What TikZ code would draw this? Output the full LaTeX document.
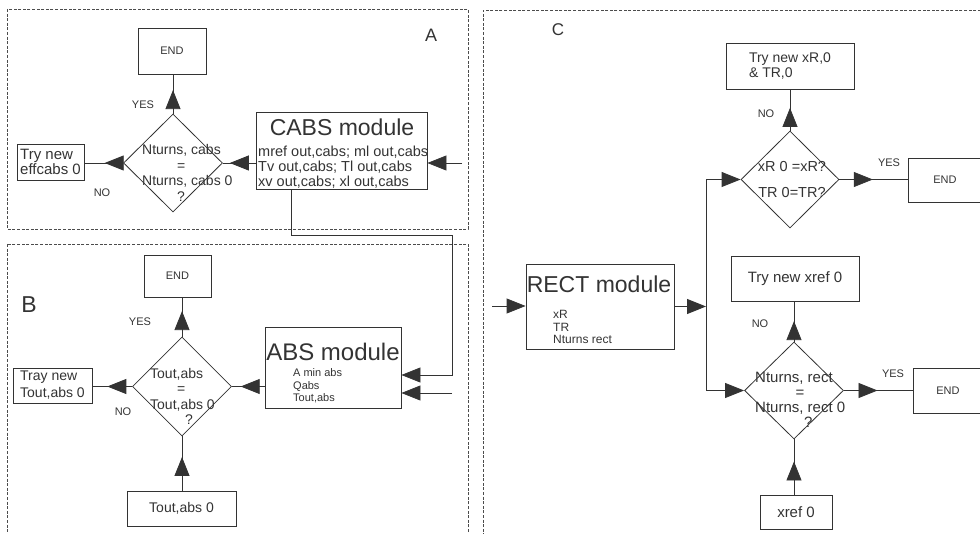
\documentclass[tikz,border=0pt]{standalone}
\usepackage{fontspec}
\setmainfont{Liberation Sans}
\usetikzlibrary{arrows.meta,shapes.geometric,decorations.markings}

\begin{document}
\begin{tikzpicture}[x=1pt,y=-1pt,>={Triangle[length=19pt,width=15pt]}]
\tikzset{
  panel/.style={draw=black!70, line width=0.7pt, dash pattern=on 3pt off 1.6pt},
  box/.style={draw=black!80, line width=0.8pt, inner sep=0pt, align=left, text=black!80},
  dec/.style={draw=black!80, line width=0.8pt, diamond, inner sep=0pt},
  ln/.style={draw=black!80, line width=0.8pt},
  flow/.style={postaction={decorate, decoration={markings,
      mark=at position #1 with {\arrow{Triangle[length=19pt,width=15pt]}}}}},
  tx/.style={inner sep=0pt, align=left, text=black!80},
  fsmall/.style={font=\fontsize{11}{12.5}\selectfont},
  fmid/.style={font=\fontsize{12}{12.5}\selectfont},
  fbody/.style={font=\fontsize{14}{15.5}\selectfont},
  fwide/.style={font=\fontsize{15}{15}\selectfont},
  ftitle/.style={font=\fontsize{23}{25}\selectfont}
}
\useasboundingbox (0,0) rectangle (980,534);
% ---------- A: CABS module ----------
\begin{scope}
  \draw[panel] (7,9) rectangle (468,229);
  \node[tx, font=\fontsize{18}{18}\selectfont] (labA) at (431,35) {A};
  \node[box, fsmall, align=center, minimum width=68pt, minimum height=46pt] (endA) at (172,51) {END};
  \node[dec, minimum width=99pt, minimum height=98pt] (qA) at (173,163) {};
  \node[tx, fbody, anchor=west] (qAt) at (142,173) {Nturns, cabs\\\hspace*{35pt}=\\Nturns, cabs 0\\\hspace*{35pt}?};
  \node[box, fwide, minimum width=67pt, minimum height=36pt] (tryA) at (50.5,162) {Try new\\effcabs 0};
  \node[box, minimum width=171pt, minimum height=77pt] (cabs) at (341.5,150.5) {};
  \node[tx, ftitle] (cabsT) at (342,127) {CABS module};
  \node[tx, font=\fontsize{14.5}{15}\selectfont, anchor=west] (cabsB) at (258,167)
    {mref out,cabs; ml out,cabs\\Tv out,cabs; Tl out,cabs\\xv out,cabs; xl out,cabs};
  \node[tx, fsmall] (yesA) at (143,105) {YES};
  \node[tx, fsmall] (noA) at (102,193) {NO};
  \coordinate (inA) at (462,163);
  \draw[ln, flow=0.6] (qA.north) -- (qA.north |- endA.south);
  \draw[ln, flow=0.475] (qA.west) -- (qA.west -| tryA.east);
  \draw[ln, flow=0.79] (qA.east -| cabs.west) -- (qA.east);
  \draw[ln, ->] (inA) -- (inA -| cabs.east);
\end{scope}
% ---------- B: ABS module ----------
\begin{scope}
  \draw[panel] (7,244) rectangle (468,560);
  \node[tx, font=\fontsize{23}{23}\selectfont] (labB) at (29,305) {B};
  \node[box, fsmall, align=center, minimum width=67pt, minimum height=42pt] (endB) at (177.5,276) {END};
  \node[dec, minimum width=99pt, minimum height=99pt] (qB) at (182,386.5) {};
  \node[tx, fbody, anchor=west] (qBt) at (150,396.5) {Tout,abs\\\hspace*{27pt}=\\Tout,abs 0\\\hspace*{35pt}?};
  \node[box, font=\fontsize{14}{17}\selectfont, minimum width=79pt, minimum height=35pt] (tryB) at (52.5,385.5) {Tray new\\Tout,abs 0};
  \node[box, minimum width=136pt, minimum height=81pt] (abs) at (333,367.5) {};
  \node[tx, font=\fontsize{24}{25}\selectfont] (absT) at (333,352) {ABS module};
  \node[tx, fsmall, anchor=west] (absB) at (293,386) {A min abs\\Qabs\\Tout,abs};
  \node[box, fbody, minimum width=109pt, minimum height=35pt] (toutB) at (181.5,508.5) {Tout,abs 0};
  \node[tx, fsmall] (yesB) at (140,322) {YES};
  \node[tx, fsmall] (noB) at (123,412) {NO};
  \coordinate (outA) at (291,235);
  \coordinate (inAB) at (452,375);
  \coordinate (inB) at (452,393);
  \draw[ln, flow=0.65] (qB.north) -- (qB.north |- endB.south);
  \draw[ln, flow=0.625] (qB.west) -- (qB.west -| tryB.east);
  \draw[ln, flow=0.73] (qB.east -| abs.west) -- (qB.east);
  \draw[ln, flow=0.62] (toutB.north -| qB.south) -- (qB.south);
  \draw[ln, ->] (outA |- cabs.south) -- (outA) -| (inAB) -- (inAB -| abs.east);
  \draw[ln, ->] (inB) -- (inB -| abs.east);
\end{scope}
% ---------- C: RECT module ----------
\begin{scope}
  \draw[panel] (990,10) -- (483,10) -- (483,560);
  \node[tx, font=\fontsize{17}{17}\selectfont] (labC) at (558,30) {C};
  \node[box, fbody, minimum width=128pt, minimum height=46pt] (tryC1) at (790,66) {Try new xR,0\\\& TR,0};
  \node[dec, minimum width=98pt, minimum height=97pt] (qC1) at (790,179.5) {};
  \node[tx, font=\fontsize{14.5}{15.5}\selectfont, align=center] (qC1t) at (792,180) {xR 0 =xR?\\[10.5pt]TR 0=TR?};
  \node[box, fsmall, align=center, minimum width=74pt, minimum height=44pt] (endC1) at (945,180) {END};
  \node[tx, fsmall] (noC1) at (766,114) {NO};
  \node[tx, fsmall] (yesC1) at (889,163) {YES};
  \node[box, minimum width=148pt, minimum height=85pt] (rect) at (600,306.5) {};
  \node[tx, ftitle] (rectT) at (599,284) {RECT module};
  \node[tx, fmid, anchor=west] (rectB) at (553,327) {xR\\TR\\Nturns rect};
  \node[box, fwide, minimum width=128pt, minimum height=45pt] (tryC2) at (795,278.5) {Try new xref 0};
  \node[dec, minimum width=99pt, minimum height=97pt] (qC2) at (794,390.5) {};
  \node[tx, fwide, anchor=west] (qC2t) at (755,400) {Nturns, rect\\\hspace*{40.5pt}=\\Nturns, rect 0\\\hspace*{49pt}?};
  \node[box, fsmall, align=center, minimum width=70pt, minimum height=45pt] (endC2) at (948,390.5) {END};
  \node[tx, fsmall] (noC2) at (760,324) {NO};
  \node[tx, fsmall] (yesC2) at (893,374) {YES};
  \node[box, fwide, minimum width=72pt, minimum height=34pt] (xref) at (796,512) {xref 0};
  \coordinate (inC) at (492,306);
  \coordinate (split) at (706,0);
  \draw[ln, ->] (inC) -- (inC -| rect.west);
  \draw[ln, ->] (rect.east) -- (rect.east -| split);
  \draw[ln] (split |- qC1.west) -- (split |- qC2.west);
  \draw[ln, ->] (split |- qC1.west) -- (qC1.west);
  \draw[ln, ->] (split |- qC2.west) -- (qC2.west);
  \draw[ln, flow=0.55] (qC1.north) -- (qC1.north |- tryC1.south);
  \draw[ln, flow=0.49] (qC1.east) -- (qC1.east -| endC1.west);
  \draw[ln, flow=0.51] (qC2.north) -- (qC2.north |- tryC2.south);
  \draw[ln, flow=0.49] (qC2.east) -- (qC2.east -| endC2.west);
  \draw[ln, flow=0.6] (xref.north -| qC2.south) -- (qC2.south);
\end{scope}
\end{tikzpicture}
\end{document}
